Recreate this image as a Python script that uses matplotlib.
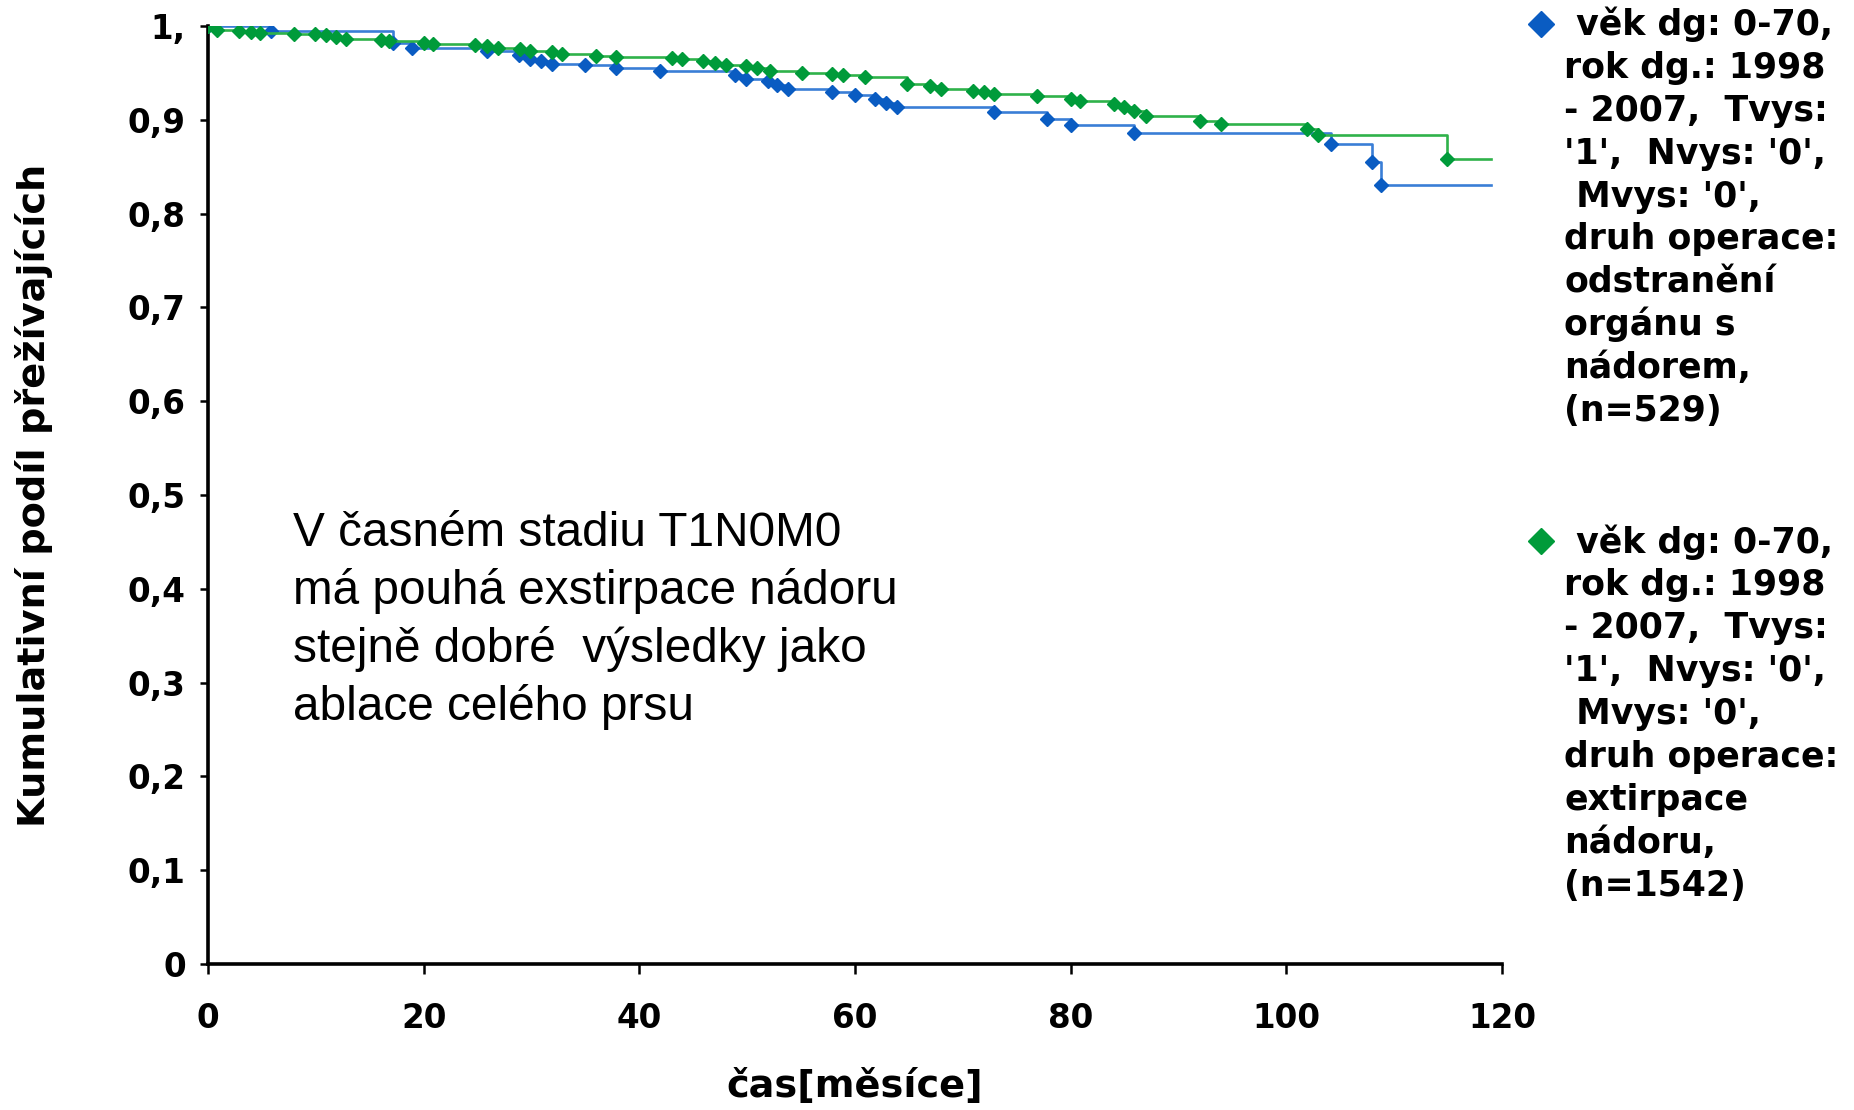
#!/usr/bin/env python3

import matplotlib
matplotlib.use( "Agg" )
import matplotlib.pyplot as plt
from matplotlib.lines import Line2D

# Kaplan-Meier curves (months, cumulative survival)
blue_months = [ 0, 5.8, 17.2, 18.9, 25.9, 28.8, 29.9, 30.9, 31.9, 35.0,
                37.8, 41.9, 48.9, 49.9, 51.9, 52.8, 53.8, 57.9, 60.0, 61.9,
                62.9, 63.9, 72.9, 77.8, 80.0, 85.9, 104.1, 107.9, 108.8 ]
blue_surv = [ 1.0, 0.995, 0.982, 0.977, 0.973, 0.969, 0.965, 0.963, 0.959, 0.958,
              0.955, 0.952, 0.948, 0.944, 0.941, 0.937, 0.933, 0.930, 0.926, 0.922,
              0.918, 0.914, 0.908, 0.901, 0.894, 0.886, 0.874, 0.855, 0.830 ]

green_months = [ 0, 0.8, 2.9, 4.0, 4.8, 8.0, 9.9, 10.9, 11.9, 12.8,
                 16.0, 16.8, 20.0, 20.9, 24.8, 25.9, 26.9, 28.9, 29.9, 31.9,
                 32.8, 36.0, 37.8, 43.0, 44.0, 45.9, 47.0, 48.0, 49.9, 50.9,
                 52.1, 55.1, 57.9, 58.9, 60.9, 64.8, 67.0, 68.0, 70.9, 72.0,
                 72.9, 76.9, 80.0, 80.9, 84.0, 84.9, 85.9, 87.0, 92.0, 93.9,
                 101.9, 102.9, 114.9 ]
green_surv = [ 1.0, 0.996, 0.995, 0.994, 0.993, 0.992, 0.991, 0.990, 0.988, 0.986,
               0.985, 0.984, 0.982, 0.981, 0.980, 0.979, 0.977, 0.975, 0.973, 0.972,
               0.970, 0.968, 0.967, 0.966, 0.965, 0.963, 0.961, 0.958, 0.957, 0.955,
               0.952, 0.950, 0.949, 0.948, 0.946, 0.938, 0.936, 0.933, 0.931, 0.930,
               0.928, 0.925, 0.922, 0.920, 0.917, 0.914, 0.909, 0.904, 0.899, 0.896,
               0.890, 0.884, 0.858 ]

end_month = 119

x_ticks = [ 0, 20, 40, 60, 80, 100, 120 ]
y_ticks = [ 0, 0.1, 0.2, 0.3, 0.4, 0.5, 0.6, 0.7, 0.8, 0.9, 1.0 ]
y_tick_labels = [ "0", "0,1", "0,2", "0,3", "0,4", "0,5", "0,6", "0,7", "0,8", "0,9", "1," ]

legend_blue = [ " věk dg: 0-70,", "rok dg.: 1998", "- 2007,  Tvys:", "'1',  Nvys: '0',",
                " Mvys: '0',", "druh operace:", "odstranění", "orgánu s", "nádorem,", "(n=529)" ]
legend_green = [ " věk dg: 0-70,", "rok dg.: 1998", "- 2007,  Tvys:", "'1',  Nvys: '0',",
                 " Mvys: '0',", "druh operace:", "extirpace", "nádoru,", "(n=1542)" ]

note = "V časném stadiu T1N0M0\nmá pouhá exstirpace nádoru\nstejně dobré  výsledky jako\nablace celého prsu"

BLUE_MK = "#0A5CC2"
BLUE_LN = "#3A7ED6"
GREEN_MK = "#009B3A"
GREEN_LN = "#2FB24A"

W, H = 1854, 1110


def draw_curve( ax, months, surv, line_color, marker_color, z ):
    ax.plot( months + [ end_month ], surv + [ surv[-1] ], drawstyle="steps-post",
             color=line_color, lw=1.9, zorder=z )
    ax.plot( months, surv, "D", ms=7.6, color=marker_color, mec=marker_color, zorder=z + 1 )


def draw_legend_entry( fig, lines, first_baseline, color ):
    step = 42.9
    fig.add_artist( Line2D( [ 1541 / W ], [ 1 - ( first_baseline - 11.5 ) / H ],
                            transform=fig.transFigure, marker="D", ms=13,
                            color=color, mec=color, ls="none" ) )
    for i, line in enumerate( lines ):
        y = 1 - ( first_baseline + i * step ) / H
        fig.text( 1564 / W, y, line, fontsize=25, fontweight="bold", family="DejaVu Sans",
                  ha="left", va="baseline" )


def main():
    fig = plt.figure( 1, figsize=( W / 100, H / 100 ), dpi=100 )
    ax = fig.add_axes( [ 208 / W, 146 / H, 1294 / W, 938 / H ] )

    draw_curve( ax, blue_months, blue_surv, BLUE_LN, BLUE_MK, 3 )
    draw_curve( ax, green_months, green_surv, GREEN_LN, GREEN_MK, 5 )

    ax.set_xlim( 0, 120 )
    ax.set_ylim( 0, 1 )
    ax.set_xticks( x_ticks )
    ax.set_yticks( y_ticks )
    ax.set_yticklabels( y_tick_labels )
    for s in [ "top", "right" ]:
        ax.spines[s].set_visible( False )
    for s in [ "left", "bottom" ]:
        ax.spines[s].set_linewidth( 2.6 )
    ax.tick_params( axis="x", direction="out", length=7, width=1.8, pad=20, labelsize=23.5 )
    ax.tick_params( axis="y", direction="out", length=6, width=1.8, pad=10, labelsize=23.5 )
    for lab in ax.get_xticklabels() + ax.get_yticklabels():
        lab.set_fontweight( "bold" )

    ax.set_xlabel( "čas[měsíce]", fontsize=27.5, fontweight="bold" )
    ax.xaxis.set_label_coords( 0.5, -0.112 )
    ax.set_ylabel( "Kumulativní podíl přežívajících", fontsize=27.5, fontweight="bold" )
    ax.yaxis.set_label_coords( -0.12, 0.5 )

    ax.text( 0.0657, 0.483, note, transform=ax.transAxes, fontsize=34.4,
             family="Liberation Sans", ha="left", va="top", linespacing=1.33 )

    draw_legend_entry( fig, legend_blue, 35, BLUE_MK )
    draw_legend_entry( fig, legend_green, 552.5, GREEN_MK )

    plt.savefig( "out.png", dpi=100 )
    plt.clf()
    return


if __name__ == "__main__":
    main()
